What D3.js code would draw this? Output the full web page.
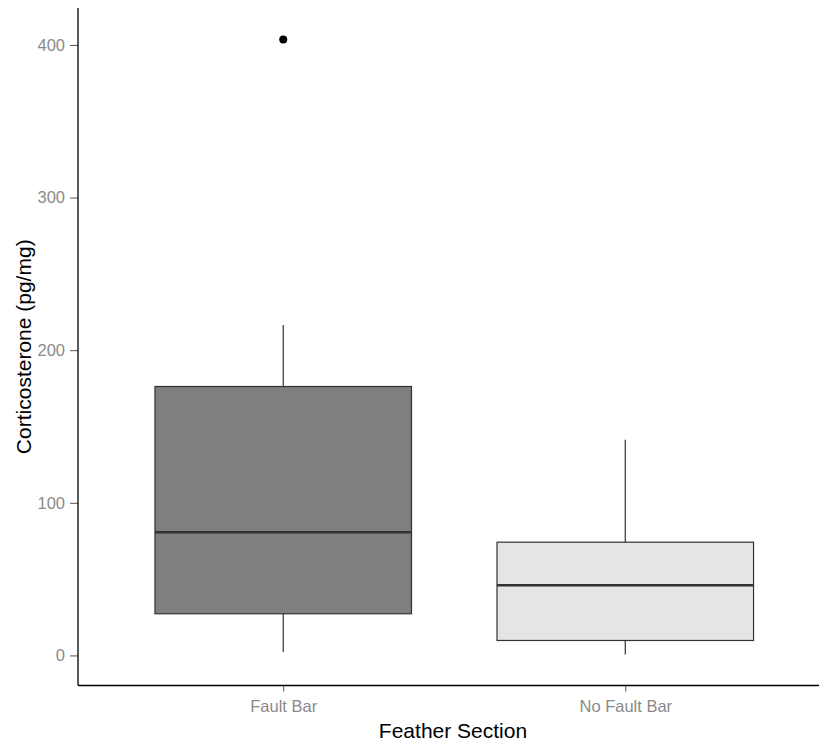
<!DOCTYPE html>
<html>
<head>
<meta charset="utf-8">
<script src="https://cdn.jsdelivr.net/npm/d3@7"></script>
<style>
  body { margin: 0; background: #fff; }
  svg { display: block; font-family: "Liberation Sans", Arial, sans-serif; }
</style>
</head>
<body>
<div id="vis"></div>
<script>
// dados
const categories = ["Fault Bar", "No Fault Bar"];
const boxFill = ["#7f7f7f", "#e5e5e5"];
const lowerWhisker = [2.2, 0.6];
const q1 = [27.3, 9.8];
const median = [80.7, 46.0];
const q3 = [176.2, 74.2];
const upperWhisker = [216.5, 141.3];
const outliers = [[403.5], []];
const yTicks = [0, 100, 200, 300, 400];

const W = 819, H = 745;
const plotLeft = 78, plotTop = 8, plotBottom = 685.5;

const svg = d3.select("#vis").append("svg")
    .attr("width", W)
    .attr("height", H);

// escalas (ggplot: expansão discreta de 0.6)
const x = d3.scaleLinear().domain([0.4, 2.6]).range([plotLeft, 830.5]);
const y = d3.scaleLinear().domain([-19.7, 424.2]).range([plotBottom, plotTop]);
const boxW = x(1.75) - x(1);

const data = categories.map((c, i) => ({
    cat: c, pos: i + 1, fill: boxFill[i],
    lo: lowerWhisker[i], q1: q1[i], med: median[i], q3: q3[i], hi: upperWhisker[i],
    out: outliers[i]
}));

const g = svg.append("g");

// whiskers
g.selectAll(".wlo").data(data).enter().append("line")
    .attr("x1", d => x(d.pos)).attr("x2", d => x(d.pos))
    .attr("y1", d => y(d.lo)).attr("y2", d => y(d.q1))
    .attr("stroke", "#333").attr("stroke-width", 1.2);
g.selectAll(".whi").data(data).enter().append("line")
    .attr("x1", d => x(d.pos)).attr("x2", d => x(d.pos))
    .attr("y1", d => y(d.q3)).attr("y2", d => y(d.hi))
    .attr("stroke", "#333").attr("stroke-width", 1.2);

// caixas
g.selectAll("rect").data(data).enter().append("rect")
    .attr("x", d => x(d.pos) - boxW / 2)
    .attr("width", boxW)
    .attr("y", d => y(d.q3))
    .attr("height", d => y(d.q1) - y(d.q3))
    .attr("fill", d => d.fill)
    .attr("stroke", "#333").attr("stroke-width", 1.2);

// mediana
g.selectAll(".med").data(data).enter().append("line")
    .attr("x1", d => x(d.pos) - boxW / 2).attr("x2", d => x(d.pos) + boxW / 2)
    .attr("y1", d => y(d.med)).attr("y2", d => y(d.med))
    .attr("stroke", "#333").attr("stroke-width", 2.5);

// outliers
data.forEach(d => {
    g.selectAll(null).data(d.out).enter().append("circle")
        .attr("cx", x(d.pos)).attr("cy", v => y(v))
        .attr("r", 4).attr("fill", "#000");
});

// eixo y
const yAxis = svg.append("g")
    .attr("transform", `translate(${plotLeft},0)`)
    .call(d3.axisLeft(y).tickValues(yTicks).tickSize(8).tickPadding(5).tickFormat(d3.format("d")));
yAxis.select(".domain").remove();
yAxis.selectAll(".tick line").attr("stroke", "#555");
yAxis.selectAll(".tick text").attr("fill", "#8a8a8a").style("font-size", "16.5px");

// eixo x
const xAxis = svg.append("g")
    .attr("transform", `translate(0,${plotBottom})`)
    .call(d3.axisBottom(x).tickValues([1, 2]).tickSize(6).tickPadding(9)
        .tickFormat((d, i) => categories[i]));
xAxis.select(".domain").remove();
xAxis.selectAll(".tick line").attr("stroke", "#555");
xAxis.selectAll(".tick text").attr("fill", "#8a8a8a").style("font-size", "16.5px");

// linhas dos eixos
svg.append("line")
    .attr("x1", plotLeft).attr("x2", plotLeft)
    .attr("y1", plotTop).attr("y2", plotBottom)
    .attr("stroke", "#000").attr("stroke-width", 1.3);
svg.append("line")
    .attr("x1", plotLeft).attr("x2", W)
    .attr("y1", plotBottom).attr("y2", plotBottom)
    .attr("stroke", "#000").attr("stroke-width", 1.3);

// títulos
svg.append("text")
    .attr("x", 453).attr("y", 738)
    .attr("text-anchor", "middle")
    .style("font-size", "21px").attr("fill", "#000")
    .text("Feather Section");
svg.append("text")
    .attr("transform", `translate(31,${(plotTop + plotBottom) / 2}) rotate(-90)`)
    .attr("text-anchor", "middle")
    .style("font-size", "21px").attr("fill", "#000")
    .text("Corticosterone (pg/mg)");
</script>
</body>
</html>
